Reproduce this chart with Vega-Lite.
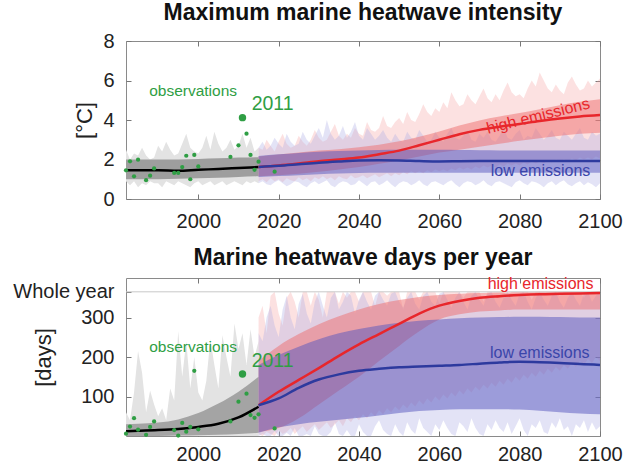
{
"$schema": "https://vega.github.io/schema/vega-lite/v6.json",
"padding": {"left": 12, "top": 1, "right": 5, "bottom": 5},
"config": {
 "font": "Liberation Sans",
 "view": {"stroke": "#8a8a8a", "strokeWidth": 1},
 "axis": {"grid": false, "domain": false, "labelFont": "Liberation Sans", "labelFontSize": 20, "labelColor": "#222222", "tickColor": "#777777", "tickSize": -5, "labelPadding": 17, "labelFlush": false, "labelOverlap": false, "titleFont": "Liberation Sans", "titleFontSize": 22, "titleFontWeight": "normal", "titleColor": "#222222"},
 "title": {"fontSize": 23, "font": "Liberation Sans", "fontWeight": "bold", "color": "#111111", "offset": 6, "frame": "group"}
},
"datasets": {
 "topHistNoise": [
  {"year":1982,"lo":0.9,"hi":2.5},{"year":1983,"lo":0.7,"hi":2.0},{"year":1984,"lo":0.9,"hi":2.3},{"year":1985,"lo":0.6,"hi":2.2},{"year":1986,"lo":0.8,"hi":2.6},{"year":1987,"lo":0.7,"hi":2.2},{"year":1988,"lo":0.9,"hi":2.0},{"year":1989,"lo":0.8,"hi":2.1},{"year":1990,"lo":0.8,"hi":2.7},{"year":1991,"lo":0.6,"hi":2.4},{"year":1992,"lo":0.9,"hi":2.9},{"year":1993,"lo":0.8,"hi":2.5},{"year":1994,"lo":0.7,"hi":2.2},{"year":1995,"lo":0.9,"hi":2.3},{"year":1996,"lo":0.8,"hi":2.8},{"year":1997,"lo":0.7,"hi":3.3},{"year":1998,"lo":0.6,"hi":2.6},{"year":1999,"lo":0.8,"hi":2.4},{"year":2000,"lo":0.9,"hi":2.3},{"year":2001,"lo":0.7,"hi":2.6},{"year":2002,"lo":0.8,"hi":3.2},{"year":2003,"lo":0.9,"hi":2.5},{"year":2004,"lo":0.7,"hi":3.4},{"year":2005,"lo":0.8,"hi":2.8},{"year":2006,"lo":0.9,"hi":2.4},{"year":2007,"lo":0.7,"hi":2.6},{"year":2008,"lo":0.8,"hi":3.0},{"year":2009,"lo":0.9,"hi":2.5},{"year":2010,"lo":0.8,"hi":2.7},{"year":2011,"lo":0.7,"hi":3.3},{"year":2012,"lo":0.9,"hi":2.6},{"year":2013,"lo":0.8,"hi":3.1},{"year":2014,"lo":0.9,"hi":2.4},{"year":2015,"lo":0.8,"hi":2.6}
 ],
 "topHistBand": [
  {"year":1982,"lo":1.0,"hi":2.0,"mean":1.45},{"year":1990,"lo":1.0,"hi":2.0,"mean":1.45},{"year":1995,"lo":1.02,"hi":2.0,"mean":1.43},{"year":2000,"lo":1.05,"hi":2.03,"mean":1.48},{"year":2005,"lo":1.08,"hi":2.06,"mean":1.52},{"year":2010,"lo":1.12,"hi":2.1,"mean":1.57},{"year":2015,"lo":1.15,"hi":2.12,"mean":1.62}
 ],
 "topFutNoise": [
  {"year":2015,"rh":2.6,"rl":0.9,"bh":2.6,"bl":0.8},{"year":2016,"rh":2.5,"rl":1.0,"bh":2.9,"bl":0.9},{"year":2017,"rh":3.0,"rl":0.85,"bh":2.5,"bl":0.75},{"year":2018,"rh":2.7,"rl":1.05,"bh":2.7,"bl":0.7},{"year":2019,"rh":2.4,"rl":0.9,"bh":3.1,"bl":0.85},{"year":2020,"rh":2.9,"rl":1.0,"bh":2.8,"bl":0.95},{"year":2021,"rh":3.3,"rl":0.85,"bh":2.6,"bl":0.8},{"year":2022,"rh":2.8,"rl":1.05,"bh":3.3,"bl":0.65},{"year":2023,"rh":2.6,"rl":0.95,"bh":2.9,"bl":0.75},{"year":2024,"rh":2.7,"rl":0.9,"bh":2.7,"bl":0.9},{"year":2025,"rh":3.2,"rl":1.1,"bh":2.8,"bl":0.85},{"year":2026,"rh":2.9,"rl":0.95,"bh":3.4,"bl":0.7},{"year":2027,"rh":2.7,"rl":1.05,"bh":3.0,"bl":0.6},{"year":2028,"rh":3.0,"rl":0.9,"bh":2.8,"bl":0.8},{"year":2029,"rh":3.5,"rl":1.1,"bh":3.2,"bl":0.9},{"year":2030,"rh":3.1,"rl":1.0,"bh":3.6,"bl":0.75},{"year":2031,"rh":2.9,"rl":1.15,"bh":3.1,"bl":0.85},{"year":2032,"rh":3.0,"rl":1.0,"bh":4.0,"bl":0.95},{"year":2033,"rh":3.4,"rl":1.1,"bh":3.3,"bl":0.7},{"year":2034,"rh":3.8,"rl":0.95,"bh":3.0,"bl":0.6},{"year":2035,"rh":3.2,"rl":1.15,"bh":3.2,"bl":0.8},{"year":2036,"rh":3.0,"rl":1.05,"bh":3.7,"bl":0.9},{"year":2037,"rh":3.3,"rl":1.0,"bh":3.1,"bl":0.85},{"year":2038,"rh":3.1,"rl":1.2,"bh":3.4,"bl":0.7},{"year":2039,"rh":3.6,"rl":1.05,"bh":3.9,"bl":0.75},{"year":2040,"rh":3.3,"rl":1.1,"bh":3.2,"bl":0.95},{"year":2041,"rh":3.2,"rl":1.2,"bh":3.0,"bl":0.8},{"year":2042,"rh":3.9,"rl":1.05,"bh":3.6,"bl":0.65},{"year":2043,"rh":3.5,"rl":1.15,"bh":3.3,"bl":0.85},{"year":2044,"rh":3.4,"rl":1.25,"bh":3.0,"bl":0.9},{"year":2045,"rh":3.6,"rl":1.1,"bh":3.2,"bl":0.7},{"year":2046,"rh":4.2,"rl":1.2,"bh":3.5,"bl":0.8},{"year":2047,"rh":3.7,"rl":1.3,"bh":3.1,"bl":0.95},{"year":2048,"rh":3.6,"rl":1.15,"bh":2.9,"bl":0.75},{"year":2049,"rh":3.9,"rl":1.3,"bh":3.3,"bl":0.6},{"year":2050,"rh":4.1,"rl":1.2,"bh":3.0,"bl":0.8},{"year":2051,"rh":3.8,"rl":1.35,"bh":2.9,"bl":0.9},{"year":2052,"rh":4.4,"rl":1.25,"bh":3.4,"bl":0.85},{"year":2053,"rh":4.0,"rl":1.4,"bh":3.1,"bl":0.7},{"year":2054,"rh":3.9,"rl":1.3,"bh":3.0,"bl":0.8},{"year":2055,"rh":4.3,"rl":1.4,"bh":3.5,"bl":0.95},{"year":2056,"rh":4.8,"rl":1.3,"bh":3.2,"bl":0.75},{"year":2057,"rh":4.4,"rl":1.45,"bh":2.9,"bl":0.65},{"year":2058,"rh":4.2,"rl":1.35,"bh":3.0,"bl":0.85},{"year":2059,"rh":4.6,"rl":1.5,"bh":3.4,"bl":0.9},{"year":2060,"rh":4.4,"rl":1.4,"bh":3.1,"bl":0.8},{"year":2061,"rh":4.9,"rl":1.5,"bh":2.9,"bl":0.7},{"year":2062,"rh":4.6,"rl":1.4,"bh":3.3,"bl":0.85},{"year":2063,"rh":5.4,"rl":1.55,"bh":3.6,"bl":0.95},{"year":2064,"rh":5.0,"rl":1.45,"bh":3.1,"bl":0.75},{"year":2065,"rh":4.7,"rl":1.6,"bh":3.0,"bl":0.6},{"year":2066,"rh":4.8,"rl":1.5,"bh":3.2,"bl":0.8},{"year":2067,"rh":5.3,"rl":1.6,"bh":3.5,"bl":0.9},{"year":2068,"rh":5.0,"rl":1.5,"bh":3.0,"bl":0.85},{"year":2069,"rh":4.8,"rl":1.65,"bh":2.9,"bl":0.7},{"year":2070,"rh":5.2,"rl":1.55,"bh":3.3,"bl":0.8},{"year":2071,"rh":5.6,"rl":1.7,"bh":3.1,"bl":0.95},{"year":2072,"rh":5.1,"rl":1.6,"bh":3.4,"bl":0.75},{"year":2073,"rh":4.9,"rl":1.7,"bh":3.0,"bl":0.65},{"year":2074,"rh":5.3,"rl":1.6,"bh":2.9,"bl":0.85},{"year":2075,"rh":5.0,"rl":1.75,"bh":3.2,"bl":0.9},{"year":2076,"rh":5.5,"rl":1.65,"bh":3.6,"bl":0.8},{"year":2077,"rh":5.9,"rl":1.8,"bh":3.1,"bl":0.7},{"year":2078,"rh":5.4,"rl":1.7,"bh":3.0,"bl":0.6},{"year":2079,"rh":5.2,"rl":1.8,"bh":3.3,"bl":0.85},{"year":2080,"rh":5.3,"rl":1.7,"bh":3.5,"bl":0.95},{"year":2081,"rh":5.1,"rl":1.85,"bh":3.0,"bl":0.8},{"year":2082,"rh":5.6,"rl":1.75,"bh":3.2,"bl":0.7},{"year":2083,"rh":6.0,"rl":1.9,"bh":3.1,"bl":0.9},{"year":2084,"rh":5.7,"rl":1.8,"bh":3.6,"bl":0.85},{"year":2085,"rh":6.4,"rl":1.9,"bh":3.3,"bl":0.75},{"year":2086,"rh":6.0,"rl":1.8,"bh":3.0,"bl":0.6},{"year":2087,"rh":5.6,"rl":1.95,"bh":3.2,"bl":0.8},{"year":2088,"rh":5.4,"rl":1.85,"bh":3.5,"bl":0.9},{"year":2089,"rh":5.8,"rl":2.0,"bh":3.1,"bl":0.7},{"year":2090,"rh":5.5,"rl":1.9,"bh":3.0,"bl":0.85},{"year":2091,"rh":5.3,"rl":2.0,"bh":3.4,"bl":0.95},{"year":2092,"rh":5.9,"rl":1.9,"bh":3.2,"bl":0.75},{"year":2093,"rh":6.2,"rl":2.05,"bh":3.0,"bl":0.65},{"year":2094,"rh":5.8,"rl":1.95,"bh":3.3,"bl":0.8},{"year":2095,"rh":5.5,"rl":2.1,"bh":3.6,"bl":0.9},{"year":2096,"rh":5.6,"rl":2.0,"bh":3.1,"bl":0.7},{"year":2097,"rh":6.0,"rl":2.1,"bh":3.0,"bl":0.85},{"year":2098,"rh":5.7,"rl":2.0,"bh":3.4,"bl":0.75},{"year":2099,"rh":5.9,"rl":2.15,"bh":3.2,"bl":0.6},{"year":2100,"rh":6.1,"rl":2.05,"bh":3.3,"bl":0.8}
 ],
 "topFutBand": [
  {"year":2015,"red":1.62,"rlo":1.15,"rhi":2.15,"blue":1.62,"blo":1.12,"bhi":2.18},
  {"year":2020,"red":1.70,"rlo":1.2,"rhi":2.25,"blue":1.68,"blo":1.16,"bhi":2.26},
  {"year":2025,"red":1.80,"rlo":1.28,"rhi":2.35,"blue":1.76,"blo":1.2,"bhi":2.33},
  {"year":2030,"red":1.91,"rlo":1.38,"rhi":2.45,"blue":1.84,"blo":1.25,"bhi":2.39},
  {"year":2035,"red":2.0,"rlo":1.5,"rhi":2.52,"blue":1.9,"blo":1.29,"bhi":2.43},
  {"year":2040,"red":2.1,"rlo":1.62,"rhi":2.62,"blue":1.95,"blo":1.32,"bhi":2.46},
  {"year":2045,"red":2.27,"rlo":1.78,"rhi":2.75,"blue":1.96,"blo":1.33,"bhi":2.48},
  {"year":2050,"red":2.45,"rlo":1.95,"rhi":2.92,"blue":1.95,"blo":1.33,"bhi":2.49},
  {"year":2055,"red":2.72,"rlo":2.15,"rhi":3.15,"blue":1.92,"blo":1.33,"bhi":2.49},
  {"year":2060,"red":3.0,"rlo":2.35,"rhi":3.42,"blue":1.9,"blo":1.33,"bhi":2.49},
  {"year":2065,"red":3.28,"rlo":2.5,"rhi":3.72,"blue":1.91,"blo":1.33,"bhi":2.48},
  {"year":2070,"red":3.5,"rlo":2.65,"rhi":3.98,"blue":1.92,"blo":1.33,"bhi":2.47},
  {"year":2075,"red":3.66,"rlo":2.8,"rhi":4.18,"blue":1.93,"blo":1.33,"bhi":2.46},
  {"year":2080,"red":3.8,"rlo":2.95,"rhi":4.35,"blue":1.93,"blo":1.33,"bhi":2.46},
  {"year":2085,"red":3.95,"rlo":3.08,"rhi":4.55,"blue":1.93,"blo":1.33,"bhi":2.46},
  {"year":2090,"red":4.08,"rlo":3.2,"rhi":4.75,"blue":1.93,"blo":1.33,"bhi":2.46},
  {"year":2095,"red":4.18,"rlo":3.3,"rhi":4.92,"blue":1.93,"blo":1.33,"bhi":2.46},
  {"year":2100,"red":4.25,"rlo":3.35,"rhi":5.05,"blue":1.93,"blo":1.33,"bhi":2.46}
 ],
 "topObs": [
  {"year":1982,"v":1.45},{"year":1983,"v":1.91},{"year":1984,"v":1.15},{"year":1985,"v":1.99},{"year":1987,"v":0.95},{"year":1988,"v":1.18},{"year":1989,"v":1.55},{"year":1994,"v":1.32},{"year":1995,"v":1.32},{"year":1996,"v":1.62},{"year":1997,"v":2.19},{"year":1998,"v":1.0},{"year":1999,"v":2.23},{"year":2000,"v":1.65},{"year":2008,"v":2.13},{"year":2010,"v":2.72},{"year":2012,"v":3.31},{"year":2013,"v":2.23},{"year":2014,"v":1.48},{"year":2015,"v":1.89},{"year":2019,"v":1.38}
 ],
 "botHistNoise": [
  {"year":1982,"lo":0,"hi":60},{"year":1983,"lo":0,"hi":40},{"year":1984,"lo":0,"hi":110},{"year":1985,"lo":0,"hi":215},{"year":1986,"lo":0,"hi":160},{"year":1987,"lo":0,"hi":60},{"year":1988,"lo":0,"hi":115},{"year":1989,"lo":0,"hi":80},{"year":1990,"lo":0,"hi":50},{"year":1991,"lo":0,"hi":70},{"year":1992,"lo":0,"hi":40},{"year":1993,"lo":0,"hi":120},{"year":1994,"lo":0,"hi":90},{"year":1995,"lo":0,"hi":265},{"year":1996,"lo":0,"hi":150},{"year":1997,"lo":0,"hi":240},{"year":1998,"lo":0,"hi":120},{"year":1999,"lo":0,"hi":200},{"year":2000,"lo":0,"hi":110},{"year":2001,"lo":0,"hi":90},{"year":2002,"lo":0,"hi":140},{"year":2003,"lo":0,"hi":245},{"year":2004,"lo":0,"hi":180},{"year":2005,"lo":0,"hi":120},{"year":2006,"lo":0,"hi":255},{"year":2007,"lo":0,"hi":200},{"year":2008,"lo":0,"hi":150},{"year":2009,"lo":0,"hi":285},{"year":2010,"lo":0,"hi":220},{"year":2011,"lo":0,"hi":260},{"year":2012,"lo":0,"hi":180},{"year":2013,"lo":0,"hi":270},{"year":2014,"lo":0,"hi":200},{"year":2015,"lo":0,"hi":240}
 ],
 "botHistBand": [
  {"year":1982,"lo":0,"hi":30,"mean":12},{"year":1985,"lo":0,"hi":31,"mean":13},{"year":1990,"lo":0,"hi":34,"mean":15},{"year":1995,"lo":1,"hi":42,"mean":18},{"year":2000,"lo":2,"hi":58,"mean":23},{"year":2005,"lo":3,"hi":82,"mean":31},{"year":2010,"lo":5,"hi":112,"mean":47},{"year":2015,"lo":8,"hi":150,"mean":74}
 ],
 "botFutNoise": [
  {"year":2015,"rh":300,"rl":5,"bh":260,"bl":0},{"year":2016,"rh":330,"rl":0,"bh":240,"bl":5},{"year":2017,"rh":260,"rl":10,"bh":300,"bl":0},{"year":2018,"rh":355,"rl":5,"bh":330,"bl":0},{"year":2019,"rh":365,"rl":0,"bh":280,"bl":12},{"year":2020,"rh":310,"rl":15,"bh":250,"bl":0},{"year":2021,"rh":280,"rl":5,"bh":320,"bl":0},{"year":2022,"rh":350,"rl":10,"bh":355,"bl":8},{"year":2023,"rh":365,"rl":20,"bh":300,"bl":0},{"year":2024,"rh":340,"rl":5,"bh":270,"bl":20},{"year":2025,"rh":300,"rl":15,"bh":335,"bl":0},{"year":2026,"rh":365,"rl":25,"bh":360,"bl":0},{"year":2027,"rh":365,"rl":10,"bh":310,"bl":5},{"year":2028,"rh":330,"rl":20,"bh":285,"bl":0},{"year":2029,"rh":365,"rl":30,"bh":340,"bl":25},{"year":2030,"rh":345,"rl":15,"bh":365,"bl":5},{"year":2031,"rh":300,"rl":25,"bh":330,"bl":0},{"year":2032,"rh":365,"rl":35,"bh":300,"bl":0},{"year":2033,"rh":365,"rl":20,"bh":350,"bl":10},{"year":2034,"rh":365,"rl":30,"bh":365,"bl":35},{"year":2035,"rh":335,"rl":40,"bh":320,"bl":5},{"year":2036,"rh":365,"rl":25,"bh":340,"bl":0},{"year":2037,"rh":350,"rl":45,"bh":365,"bl":15},{"year":2038,"rh":365,"rl":35,"bh":355,"bl":0},{"year":2039,"rh":365,"rl":50,"bh":310,"bl":0},{"year":2040,"rh":340,"rl":40,"bh":345,"bl":30},{"year":2041,"rh":365,"rl":55,"bh":365,"bl":10},{"year":2042,"rh":365,"rl":45,"bh":340,"bl":0},{"year":2043,"rh":365,"rl":60,"bh":320,"bl":0},{"year":2044,"rh":330,"rl":50,"bh":355,"bl":25},{"year":2045,"rh":365,"rl":65,"bh":365,"bl":40},{"year":2046,"rh":365,"rl":55,"bh":345,"bl":15},{"year":2047,"rh":355,"rl":70,"bh":330,"bl":5},{"year":2048,"rh":365,"rl":60,"bh":360,"bl":0},{"year":2049,"rh":365,"rl":75,"bh":365,"bl":30},{"year":2050,"rh":365,"rl":65,"bh":340,"bl":10},{"year":2051,"rh":320,"rl":80,"bh":325,"bl":0},{"year":2052,"rh":365,"rl":70,"bh":350,"bl":35},{"year":2053,"rh":365,"rl":85,"bh":365,"bl":15},{"year":2054,"rh":365,"rl":75,"bh":335,"bl":5},{"year":2055,"rh":345,"rl":90,"bh":320,"bl":45},{"year":2056,"rh":365,"rl":80,"bh":355,"bl":20},{"year":2057,"rh":365,"rl":95,"bh":365,"bl":10},{"year":2058,"rh":365,"rl":85,"bh":340,"bl":0},{"year":2059,"rh":365,"rl":100,"bh":330,"bl":30},{"year":2060,"rh":335,"rl":90,"bh":360,"bl":15},{"year":2061,"rh":365,"rl":105,"bh":365,"bl":40},{"year":2062,"rh":365,"rl":95,"bh":345,"bl":20},{"year":2063,"rh":365,"rl":110,"bh":325,"bl":5},{"year":2064,"rh":365,"rl":100,"bh":350,"bl":0},{"year":2065,"rh":365,"rl":115,"bh":365,"bl":35},{"year":2066,"rh":350,"rl":105,"bh":340,"bl":25},{"year":2067,"rh":365,"rl":120,"bh":320,"bl":10},{"year":2068,"rh":365,"rl":110,"bh":355,"bl":45},{"year":2069,"rh":365,"rl":125,"bh":365,"bl":20},{"year":2070,"rh":365,"rl":115,"bh":345,"bl":5},{"year":2071,"rh":340,"rl":130,"bh":330,"bl":0},{"year":2072,"rh":365,"rl":120,"bh":360,"bl":30},{"year":2073,"rh":365,"rl":135,"bh":365,"bl":15},{"year":2074,"rh":365,"rl":125,"bh":340,"bl":40},{"year":2075,"rh":365,"rl":140,"bh":325,"bl":20},{"year":2076,"rh":365,"rl":130,"bh":350,"bl":10},{"year":2077,"rh":355,"rl":145,"bh":365,"bl":35},{"year":2078,"rh":365,"rl":135,"bh":345,"bl":5},{"year":2079,"rh":365,"rl":150,"bh":330,"bl":25},{"year":2080,"rh":365,"rl":140,"bh":360,"bl":45},{"year":2081,"rh":365,"rl":155,"bh":365,"bl":15},{"year":2082,"rh":365,"rl":145,"bh":340,"bl":0},{"year":2083,"rh":345,"rl":160,"bh":320,"bl":30},{"year":2084,"rh":365,"rl":150,"bh":350,"bl":20},{"year":2085,"rh":365,"rl":165,"bh":365,"bl":40},{"year":2086,"rh":365,"rl":155,"bh":345,"bl":10},{"year":2087,"rh":365,"rl":170,"bh":330,"bl":5},{"year":2088,"rh":365,"rl":160,"bh":355,"bl":35},{"year":2089,"rh":365,"rl":175,"bh":365,"bl":20},{"year":2090,"rh":355,"rl":165,"bh":340,"bl":45},{"year":2091,"rh":365,"rl":180,"bh":325,"bl":15},{"year":2092,"rh":365,"rl":170,"bh":350,"bl":25},{"year":2093,"rh":365,"rl":185,"bh":365,"bl":0},{"year":2094,"rh":365,"rl":175,"bh":345,"bl":30},{"year":2095,"rh":365,"rl":190,"bh":330,"bl":20},{"year":2096,"rh":350,"rl":180,"bh":360,"bl":40},{"year":2097,"rh":365,"rl":195,"bh":365,"bl":10},{"year":2098,"rh":365,"rl":185,"bh":340,"bl":35},{"year":2099,"rh":365,"rl":200,"bh":355,"bl":15},{"year":2100,"rh":365,"rl":190,"bh":365,"bl":25}
 ],
 "botFutBand": [
  {"year":2015,"red":78,"rlo":10,"rhi":190,"blue":78,"blo":8,"bhi":180},
  {"year":2020,"red":112,"rlo":20,"rhi":228,"blue":95,"blo":22,"bhi":205},
  {"year":2025,"red":142,"rlo":45,"rhi":258,"blue":122,"blo":30,"bhi":226},
  {"year":2030,"red":172,"rlo":80,"rhi":283,"blue":143,"blo":36,"bhi":245},
  {"year":2035,"red":203,"rlo":115,"rhi":303,"blue":156,"blo":41,"bhi":260},
  {"year":2040,"red":232,"rlo":150,"rhi":320,"blue":165,"blo":46,"bhi":271},
  {"year":2045,"red":258,"rlo":190,"rhi":334,"blue":170,"blo":52,"bhi":280},
  {"year":2050,"red":284,"rlo":228,"rhi":344,"blue":174,"blo":58,"bhi":287},
  {"year":2055,"red":310,"rlo":265,"rhi":352,"blue":176,"blo":63,"bhi":292},
  {"year":2060,"red":330,"rlo":295,"rhi":357,"blue":178,"blo":66,"bhi":295},
  {"year":2065,"red":342,"rlo":308,"rhi":360,"blue":180,"blo":68,"bhi":298},
  {"year":2070,"red":350,"rlo":315,"rhi":362,"blue":183,"blo":68,"bhi":300},
  {"year":2075,"red":354,"rlo":318,"rhi":363,"blue":186,"blo":68,"bhi":301},
  {"year":2080,"red":357,"rlo":320,"rhi":364,"blue":188,"blo":67,"bhi":302},
  {"year":2085,"red":359,"rlo":320,"rhi":365,"blue":187,"blo":64,"bhi":302},
  {"year":2090,"red":360,"rlo":320,"rhi":365,"blue":185,"blo":60,"bhi":301},
  {"year":2095,"red":361,"rlo":320,"rhi":365,"blue":182,"blo":57,"bhi":300},
  {"year":2100,"red":362,"rlo":320,"rhi":365,"blue":180,"blo":55,"bhi":300}
 ],
 "botObs": [
  {"year":1982,"v":6},{"year":1983,"v":24},{"year":1984,"v":45},{"year":1985,"v":16},{"year":1987,"v":3},{"year":1988,"v":23},{"year":1989,"v":37},{"year":1994,"v":15},{"year":1995,"v":1},{"year":1996,"v":33},{"year":1997,"v":11},{"year":1998,"v":23},{"year":1999,"v":165},{"year":2000,"v":17},{"year":2008,"v":37},{"year":2010,"v":87},{"year":2012,"v":107},{"year":2013,"v":53},{"year":2014,"v":46},{"year":2015,"v":55},{"year":2019,"v":19}
 ]
},
"vconcat": [
 {
  "width": 474, "height": 158,
  "title": {"text": "Maximum marine heatwave intensity"},
  "resolve": {"axis": {"x": "independent", "y": "independent"}},
  "layer": [
   {"data": {"name": "topHistNoise"}, "mark": {"type": "area", "color": "#e3e3e3"},
    "encoding": {
     "x": {"field": "year", "type": "quantitative", "scale": {"domain": [1982, 2100], "nice": false, "zero": false}, "axis": {"values": [2000, 2020, 2040, 2060, 2080, 2100], "format": "d", "title": null, "labelPadding": 17}},
     "y": {"field": "lo", "type": "quantitative", "scale": {"domain": [0, 8], "nice": false}, "axis": {"values": [0, 2, 4, 6, 8], "title": "[°C]", "titleAngle": -90, "titleAlign": "center", "titleBaseline": "middle", "titleX": -42, "titleY": 79}},
     "y2": {"field": "hi"}}},
   {"data": {"name": "topFutNoise"}, "mark": {"type": "area", "color": "#f5a3a3", "opacity": 0.32},
    "encoding": {"x": {"field": "year", "type": "quantitative", "axis": null}, "y": {"field": "rl", "type": "quantitative", "axis": null}, "y2": {"field": "rh"}}},
   {"data": {"name": "topFutNoise"}, "mark": {"type": "area", "color": "#b0b0e4", "opacity": 0.35},
    "encoding": {"x": {"field": "year", "type": "quantitative", "axis": null}, "y": {"field": "bl", "type": "quantitative", "axis": null}, "y2": {"field": "bh"}}},
   {"data": {"name": "topHistBand"}, "mark": {"type": "area", "color": "#9e9e9e", "interpolate": "monotone"},
    "encoding": {"x": {"field": "year", "type": "quantitative", "axis": null}, "y": {"field": "lo", "type": "quantitative", "axis": null}, "y2": {"field": "hi"}}},
   {"data": {"name": "topFutBand"}, "mark": {"type": "area", "color": "#ee6e6e", "opacity": 0.5, "interpolate": "monotone"},
    "encoding": {"x": {"field": "year", "type": "quantitative", "axis": null}, "y": {"field": "rlo", "type": "quantitative", "axis": null}, "y2": {"field": "rhi"}}},
   {"data": {"name": "topFutBand"}, "mark": {"type": "area", "color": "#5656bd", "opacity": 0.5, "interpolate": "monotone"},
    "encoding": {"x": {"field": "year", "type": "quantitative", "axis": null}, "y": {"field": "blo", "type": "quantitative", "axis": null}, "y2": {"field": "bhi"}}},
   {"data": {"name": "topHistBand"}, "mark": {"type": "line", "color": "#000000", "strokeWidth": 2.5, "interpolate": "monotone"},
    "encoding": {
     "x": {"field": "year", "type": "quantitative", "axis": {"orient": "top", "labels": false, "title": null, "values": [2000, 2020, 2040, 2060, 2080, 2100]}},
     "y": {"field": "mean", "type": "quantitative", "axis": {"orient": "right", "labels": false, "title": null, "values": [0, 2, 4, 6, 8]}}}},
   {"data": {"name": "topFutBand"}, "mark": {"type": "line", "color": "#e8262b", "strokeWidth": 2.5, "interpolate": "monotone"},
    "encoding": {"x": {"field": "year", "type": "quantitative", "axis": null}, "y": {"field": "red", "type": "quantitative", "axis": null}}},
   {"data": {"name": "topFutBand"}, "mark": {"type": "line", "color": "#2d3a9e", "strokeWidth": 2.5, "interpolate": "monotone"},
    "encoding": {"x": {"field": "year", "type": "quantitative", "axis": null}, "y": {"field": "blue", "type": "quantitative", "axis": null}}},
   {"data": {"name": "topObs"}, "mark": {"type": "circle", "color": "#2f9e44", "opacity": 1, "size": 18},
    "encoding": {"x": {"field": "year", "type": "quantitative", "axis": null}, "y": {"field": "v", "type": "quantitative", "axis": null}}},
   {"data": {"values": [{"year": 2011, "v": 4.12}]}, "mark": {"type": "circle", "color": "#2f9e44", "opacity": 1, "size": 55},
    "encoding": {"x": {"field": "year", "type": "quantitative", "axis": null}, "y": {"field": "v", "type": "quantitative", "axis": null}}},
   {"data": {"values": [{"year": 1998.7, "v": 5.47, "label": "observations"}]}, "mark": {"type": "text", "color": "#2f9e44", "fontSize": 15.5, "font": "Liberation Sans"},
    "encoding": {"x": {"field": "year", "type": "quantitative", "axis": null}, "y": {"field": "v", "type": "quantitative", "axis": null}, "text": {"field": "label"}}},
   {"data": {"values": [{"year": 2018.5, "v": 4.8, "label": "2011"}]}, "mark": {"type": "text", "color": "#2f9e44", "fontSize": 19.5, "font": "Liberation Sans"},
    "encoding": {"x": {"field": "year", "type": "quantitative", "axis": null}, "y": {"field": "v", "type": "quantitative", "axis": null}, "text": {"field": "label"}}},
   {"data": {"values": [{"year": 2084.6, "v": 4.2, "label": "high emissions"}]}, "mark": {"type": "text", "color": "#e8262b", "fontSize": 16, "angle": 346, "font": "Liberation Sans"},
    "encoding": {"x": {"field": "year", "type": "quantitative", "axis": null}, "y": {"field": "v", "type": "quantitative", "axis": null}, "text": {"field": "label"}}},
   {"data": {"values": [{"year": 2085.2, "v": 1.42, "label": "low emissions"}]}, "mark": {"type": "text", "color": "#3a45aa", "fontSize": 16, "font": "Liberation Sans"},
    "encoding": {"x": {"field": "year", "type": "quantitative", "axis": null}, "y": {"field": "v", "type": "quantitative", "axis": null}, "text": {"field": "label"}}}
  ]
 },
 {
  "width": 474, "height": 158,
  "title": {"text": "Marine heatwave days per year"},
  "resolve": {"axis": {"x": "independent", "y": "independent"}},
  "layer": [
   {"data": {"name": "botHistNoise"}, "mark": {"type": "area", "color": "#e3e3e3"},
    "encoding": {
     "x": {"field": "year", "type": "quantitative", "scale": {"domain": [1982, 2100], "nice": false, "zero": false}, "axis": {"values": [2000, 2020, 2040, 2060, 2080, 2100], "format": "d", "title": null, "labelPadding": 13}},
     "y": {"field": "lo", "type": "quantitative", "scale": {"domain": [0, 400], "nice": false}, "axis": {"values": [100, 200, 300, 365], "labelExpr": "datum.value == 365 ? 'Whole year' : datum.label", "title": "[days]", "titleAngle": -90, "titleAlign": "center", "titleBaseline": "middle", "titleX": -83, "titleY": 79}},
     "y2": {"field": "hi"}}},
   {"data": {"name": "botFutNoise"}, "mark": {"type": "area", "color": "#f5a3a3", "opacity": 0.32},
    "encoding": {"x": {"field": "year", "type": "quantitative", "axis": null}, "y": {"field": "rl", "type": "quantitative", "axis": null}, "y2": {"field": "rh"}}},
   {"data": {"name": "botFutNoise"}, "mark": {"type": "area", "color": "#b0b0e4", "opacity": 0.35},
    "encoding": {"x": {"field": "year", "type": "quantitative", "axis": null}, "y": {"field": "bl", "type": "quantitative", "axis": null}, "y2": {"field": "bh"}}},
   {"data": {"name": "botHistBand"}, "mark": {"type": "area", "color": "#a4a4a4", "interpolate": "monotone"},
    "encoding": {"x": {"field": "year", "type": "quantitative", "axis": null}, "y": {"field": "lo", "type": "quantitative", "axis": null}, "y2": {"field": "hi"}}},
   {"data": {"name": "botFutBand"}, "mark": {"type": "area", "color": "#ee6e6e", "opacity": 0.5, "interpolate": "monotone"},
    "encoding": {"x": {"field": "year", "type": "quantitative", "axis": null}, "y": {"field": "rlo", "type": "quantitative", "axis": null}, "y2": {"field": "rhi"}}},
   {"data": {"name": "botFutBand"}, "mark": {"type": "area", "color": "#5656bd", "opacity": 0.5, "interpolate": "monotone"},
    "encoding": {"x": {"field": "year", "type": "quantitative", "axis": null}, "y": {"field": "blo", "type": "quantitative", "axis": null}, "y2": {"field": "bhi"}}},
   {"data": {"values": [{"v": 365}]}, "mark": {"type": "rule", "color": "#c8c8c8", "strokeWidth": 1},
    "encoding": {"y": {"field": "v", "type": "quantitative", "axis": null}}},
   {"data": {"name": "botHistBand"}, "mark": {"type": "line", "color": "#000000", "strokeWidth": 2.5, "interpolate": "monotone"},
    "encoding": {
     "x": {"field": "year", "type": "quantitative", "axis": {"orient": "top", "labels": false, "title": null, "values": [2000, 2020, 2040, 2060, 2080, 2100]}},
     "y": {"field": "mean", "type": "quantitative", "axis": {"orient": "right", "labels": false, "title": null, "values": [100, 200, 300, 365]}}}},
   {"data": {"name": "botFutBand"}, "mark": {"type": "line", "color": "#e8262b", "strokeWidth": 2.5, "interpolate": "monotone"},
    "encoding": {"x": {"field": "year", "type": "quantitative", "axis": null}, "y": {"field": "red", "type": "quantitative", "axis": null}}},
   {"data": {"name": "botFutBand"}, "mark": {"type": "line", "color": "#2d3a9e", "strokeWidth": 2.5, "interpolate": "monotone"},
    "encoding": {"x": {"field": "year", "type": "quantitative", "axis": null}, "y": {"field": "blue", "type": "quantitative", "axis": null}}},
   {"data": {"name": "botObs"}, "mark": {"type": "circle", "color": "#2f9e44", "opacity": 1, "size": 18},
    "encoding": {"x": {"field": "year", "type": "quantitative", "axis": null}, "y": {"field": "v", "type": "quantitative", "axis": null}}},
   {"data": {"values": [{"year": 2011, "v": 157}]}, "mark": {"type": "circle", "color": "#2f9e44", "opacity": 1, "size": 55},
    "encoding": {"x": {"field": "year", "type": "quantitative", "axis": null}, "y": {"field": "v", "type": "quantitative", "axis": null}}},
   {"data": {"values": [{"year": 1998.7, "v": 226, "label": "observations"}]}, "mark": {"type": "text", "color": "#2f9e44", "fontSize": 15.5, "font": "Liberation Sans"},
    "encoding": {"x": {"field": "year", "type": "quantitative", "axis": null}, "y": {"field": "v", "type": "quantitative", "axis": null}, "text": {"field": "label"}}},
   {"data": {"values": [{"year": 2018.5, "v": 190, "label": "2011"}]}, "mark": {"type": "text", "color": "#2f9e44", "fontSize": 19.5, "font": "Liberation Sans"},
    "encoding": {"x": {"field": "year", "type": "quantitative", "axis": null}, "y": {"field": "v", "type": "quantitative", "axis": null}, "text": {"field": "label"}}},
   {"data": {"values": [{"year": 2085.2, "v": 385, "label": "high emissions"}]}, "mark": {"type": "text", "color": "#e8262b", "fontSize": 16, "font": "Liberation Sans"},
    "encoding": {"x": {"field": "year", "type": "quantitative", "axis": null}, "y": {"field": "v", "type": "quantitative", "axis": null}, "text": {"field": "label"}}},
   {"data": {"values": [{"year": 2085, "v": 211, "label": "low emissions"}]}, "mark": {"type": "text", "color": "#3a45aa", "fontSize": 16, "font": "Liberation Sans"},
    "encoding": {"x": {"field": "year", "type": "quantitative", "axis": null}, "y": {"field": "v", "type": "quantitative", "axis": null}, "text": {"field": "label"}}}
  ]
 }
],
"spacing": 14
}
